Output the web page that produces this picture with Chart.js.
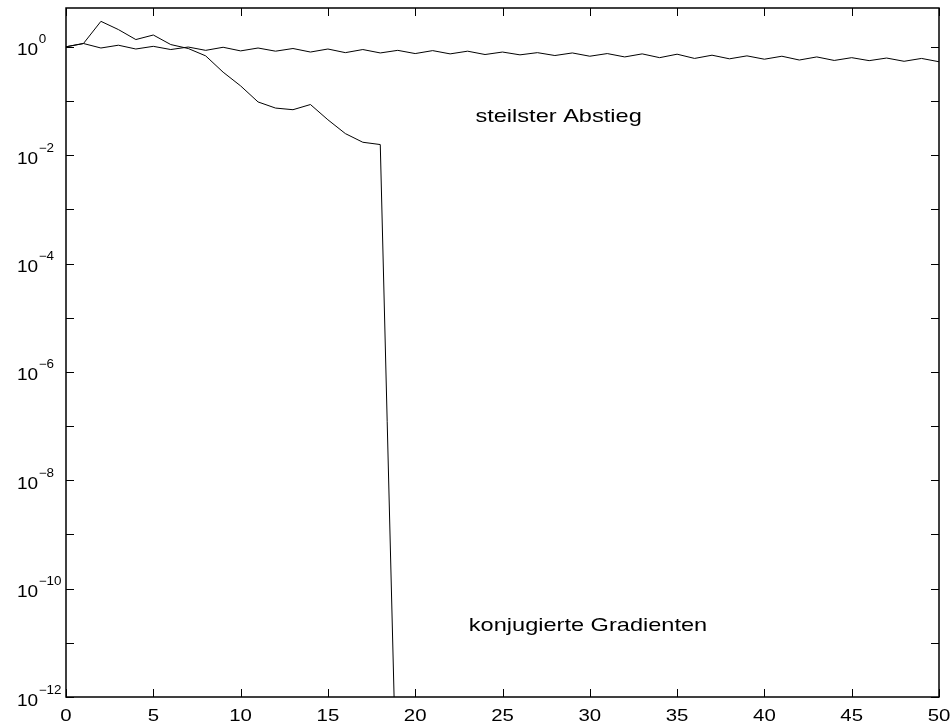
<!DOCTYPE html>
<html>
<head>
<meta charset="utf-8">
<script src="https://cdn.jsdelivr.net/npm/chart.js@4/dist/chart.umd.min.js"></script>
<style>
  body { margin: 0; background: #fff; }
  canvas { display: block; }
</style>
</head>
<body>
<canvas id="chart" width="951" height="723"></canvas>
<script>
// iteration numbers
const iters = [0, 1, 2, 3, 4, 5, 6, 7, 8, 9, 10, 11, 12, 13, 14, 15, 16, 17, 18, 19, 20,
  21, 22, 23, 24, 25, 26, 27, 28, 29, 30, 31, 32, 33, 34, 35, 36, 37, 38, 39, 40,
  41, 42, 43, 44, 45, 46, 47, 48, 49, 50];

// steilster Abstieg (steepest descent)
const steepest = [1.0, 1.15, 0.95, 1.07, 0.91, 1.02, 0.89, 0.99, 0.86, 0.98, 0.84,
  0.95, 0.83, 0.93, 0.80, 0.91, 0.78, 0.89, 0.77, 0.86, 0.75,
  0.85, 0.74, 0.83, 0.72, 0.80, 0.71, 0.78, 0.69, 0.77, 0.67,
  0.75, 0.65, 0.74, 0.63, 0.73, 0.61, 0.70, 0.60, 0.68, 0.59,
  0.67, 0.57, 0.65, 0.56, 0.63, 0.555, 0.62, 0.54, 0.61, 0.53];

// konjugierte Gradienten (conjugate gradients)
const conjugate = [1.0, 1.15, 2.95, 2.08, 1.36, 1.65, 1.10, 0.93, 0.68, 0.34, 0.19,
  0.096, 0.074, 0.069, 0.086, 0.045, 0.025, 0.0173, 0.0157, 2e-15];

const xTicks = [0, 5, 10, 15, 20, 25, 30, 35, 40, 45, 50];
const yDecades = [1e-12, 1e-11, 1e-10, 1e-9, 1e-8, 1e-7, 1e-6, 1e-5, 1e-4, 1e-3, 1e-2, 1e-1, 1];
const yLabelExps = [-12, -10, -8, -6, -4, -2, 0];

// text labels inside the plot (data coords, left/baseline)
const notes = [
  { text: 'steilster Abstieg', x: 23.45, y: 0.041 },
  { text: 'konjugierte Gradienten', x: 23.07, y: 1.66e-11 },
];

const FONT = '"Liberation Sans", Arial, sans-serif';
const WIDE = 1.2; // the original lettering is a bit wider than Arial

const zip = (xs, ys) => ys.map((v, i) => ({ x: xs[i], y: v }));

// draw text stretched horizontally, returns drawn width
const wideText = (ctx, text, x, y, k, align) => {
  ctx.save();
  ctx.translate(x, y);
  ctx.scale(k, 1);
  ctx.textAlign = align;
  ctx.fillText(text, 0, 0);
  const w = ctx.measureText(text).width * k;
  ctx.restore();
  return w;
};

// box, inward ticks, tick labels, notes
const frame = {
  id: 'frame',
  afterDraw(chart) {
    const ctx = chart.ctx;
    const a = chart.chartArea;
    const sx = chart.scales.x;
    const sy = chart.scales.y;
    ctx.save();
    ctx.strokeStyle = '#000';
    ctx.lineWidth = 1.5;
    ctx.strokeRect(a.left, a.top, a.right - a.left, a.bottom - a.top);

    ctx.lineWidth = 1;
    ctx.beginPath();
    xTicks.forEach((t) => {
      const px = Math.round(sx.getPixelForValue(t)) + 0.5;
      ctx.moveTo(px, a.bottom);
      ctx.lineTo(px, a.bottom - 8);
      ctx.moveTo(px, a.top);
      ctx.lineTo(px, a.top + 8);
    });
    yDecades.forEach((v) => {
      const py = Math.round(sy.getPixelForValue(v)) + 0.5;
      ctx.moveTo(a.left, py);
      ctx.lineTo(a.left + 8, py);
      ctx.moveTo(a.right, py);
      ctx.lineTo(a.right - 8, py);
    });
    ctx.stroke();

    ctx.fillStyle = '#000';
    ctx.textBaseline = 'alphabetic';

    ctx.font = '17px ' + FONT;
    xTicks.forEach((t) => {
      wideText(ctx, String(t), sx.getPixelForValue(t), a.bottom + 24, WIDE, 'center');
    });

    yLabelExps.forEach((e) => {
      const py = sy.getPixelForValue(Math.pow(10, e));
      ctx.font = '17px ' + FONT;
      const w = wideText(ctx, '10', 17, py + 8.5, 1.12, 'left');
      ctx.font = '12px ' + FONT;
      const exp = e < 0 ? '\u2212' + (-e) : String(e);
      wideText(ctx, exp, 17 + w + 0.5, py - 3.5, 1.12, 'left');
    });

    ctx.font = '19px ' + FONT;
    notes.forEach((n) => {
      wideText(ctx, n.text, sx.getPixelForValue(n.x), sy.getPixelForValue(n.y), 1.24, 'left');
    });
    ctx.restore();
  },
};

new Chart(document.getElementById('chart').getContext('2d'), {
  type: 'line',
  data: {
    datasets: [
      {
        label: 'steilster Abstieg',
        data: zip(iters, steepest),
        borderColor: '#000',
        borderWidth: 1,
        pointRadius: 0,
        tension: 0,
      },
      {
        label: 'konjugierte Gradienten',
        data: zip(iters, conjugate),
        borderColor: '#000',
        borderWidth: 1,
        pointRadius: 0,
        tension: 0,
      },
    ],
  },
  options: {
    responsive: false,
    animation: false,
    layout: { padding: { left: 66, right: 12, top: 8, bottom: 0 } },
    plugins: {
      legend: { display: false },
      tooltip: { enabled: false },
    },
    scales: {
      x: {
        type: 'linear',
        min: 0,
        max: 50,
        afterBuildTicks: (s) => { s.ticks = xTicks.map((v) => ({ value: v })); },
        afterFit: (s) => { s.height = 26; },
        grid: { display: false, drawTicks: false },
        border: { display: false },
        ticks: { display: false },
      },
      y: {
        type: 'logarithmic',
        min: 1e-12,
        max: 5.2,
        afterBuildTicks: (s) => { s.ticks = yDecades.map((v) => ({ value: v })); },
        afterFit: (s) => { s.width = 0; },
        grid: { display: false },
        border: { display: false },
        ticks: { display: false },
      },
    },
  },
  plugins: [frame],
});
</script>
</body>
</html>
